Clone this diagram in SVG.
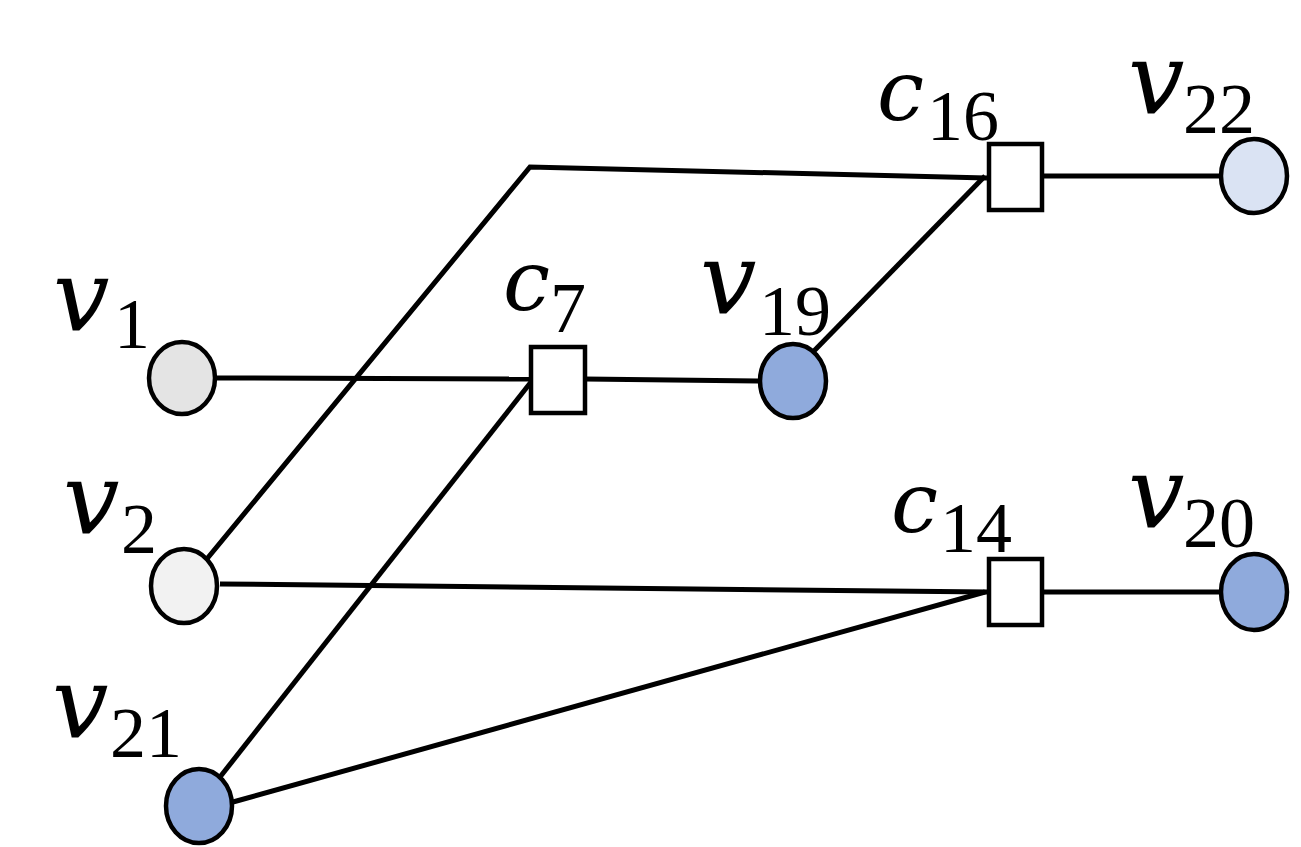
<svg xmlns="http://www.w3.org/2000/svg" width="1301" height="847" viewBox="0 0 1301 847">
<style>
.e{stroke:#000;stroke-width:5;fill:none}
.n{stroke:#000;stroke-width:4.5}
.f{fill:#fff;stroke:#000;stroke-width:4.5}
.v{font-family:"DejaVu Serif",serif;font-style:italic;font-size:100px;fill:#000}
.c{font-family:"DejaVu Serif",serif;font-style:italic;font-size:84px;fill:#000}
.s{font-family:"Liberation Serif",serif;font-size:72px;fill:#000}
</style>
<rect width="1301" height="847" fill="#fff"/>
<g id="edges">
<line class="e" x1="217" y1="378" x2="531" y2="379"/>
<line class="e" x1="585" y1="379" x2="758" y2="381"/>
<line class="e" x1="812" y1="353" x2="985" y2="176"/>
<polyline class="e" points="206,560 530,167 987,178"/>
<line class="e" x1="1042" y1="176" x2="1219" y2="176"/>
<line class="e" x1="220" y1="584" x2="989" y2="592"/>
<line class="e" x1="233" y1="802" x2="985" y2="592"/>
<line class="e" x1="220" y1="777" x2="531" y2="382"/>
<line class="e" x1="1042" y1="592" x2="1219" y2="592"/>
</g>
<g id="v1"><ellipse class="n" cx="182" cy="378" rx="33" ry="36" fill="#E4E4E4"/><text class="v" x="53" y="330">v</text><text class="s" x="114" y="348">1</text></g>
<g id="v2"><ellipse class="n" cx="184" cy="586" rx="33" ry="37" fill="#F2F2F2"/><text class="v" x="63" y="533">v</text><text class="s" x="121" y="553">2</text></g>
<g id="v21"><ellipse class="n" cx="199" cy="806" rx="33" ry="37" fill="#8FAADC"/><text class="v" x="52" y="737">v</text><text class="s" x="110" y="757">21</text></g>
<g id="c7"><rect class="f" x="531" y="347" width="54" height="66"/><text class="c" x="503" y="310">c</text><text class="s" x="550" y="332">7</text></g>
<g id="v19"><ellipse class="n" cx="793" cy="381" rx="33" ry="37" fill="#8FAADC"/><text class="v" x="700" y="313">v</text><text class="s" x="759" y="335">19</text></g>
<g id="c16"><rect class="f" x="989" y="144" width="53" height="66"/><text class="c" x="877" y="120">c</text><text class="s" x="927" y="140">16</text></g>
<g id="v22"><ellipse class="n" cx="1254" cy="176" rx="33" ry="37" fill="#DAE3F3"/><text class="v" x="1128" y="113">v</text><text class="s" x="1183" y="133">22</text></g>
<g id="c14"><rect class="f" x="989" y="559" width="53" height="66"/><text class="c" x="891" y="532">c</text><text class="s" x="940" y="552">14</text></g>
<g id="v20"><ellipse class="n" cx="1254" cy="592" rx="33" ry="38" fill="#8FAADC"/><text class="v" x="1128" y="527">v</text><text class="s" x="1183" y="547">20</text></g>
</svg>
